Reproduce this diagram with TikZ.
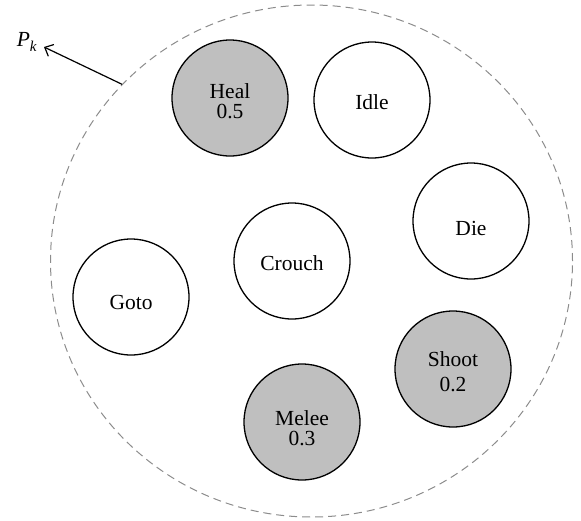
\documentclass[tikz,border=0pt]{standalone}
\usepackage{fontspec}
\setmainfont{Liberation Serif}
\usetikzlibrary{arrows.meta,shapes.geometric}
\definecolor{stategray}{gray}{0.75}
\definecolor{poolgray}{gray}{0.55}
\tikzset{
  state/.style={circle, draw=black, line width=1.3pt, minimum size=116pt, inner sep=0pt},
  active/.style={state, fill=stategray},
  idlestate/.style={state, fill=white},
  statetext/.style={font=\fontsize{21.5}{20}\selectfont, align=center, inner sep=0pt},
  pool/.style={ellipse, draw=poolgray, line width=1pt, dash pattern=on 8pt off 5pt,
    minimum width=522pt, minimum height=512pt, inner sep=0pt},
}
\begin{document}
\begin{tikzpicture}[x=1pt, y=-1pt]
\useasboundingbox (0,0) rectangle (581,520);

% pool of behaviours
\node[pool] (pool) at (311.5,261) {};

% behaviour states
\node[active]    (heal)   at (230,98)  {};
\node[idlestate] (idle)   at (372,100) {};
\node[idlestate] (die)    at (471,221) {};
\node[idlestate] (crouch) at (292,261) {};
\node[idlestate] (goto)   at (131,297) {};
\node[active]    (shoot)  at (453,369) {};
\node[active]    (melee)  at (302,422) {};

% state labels
\node[statetext] (healtxt)   at (230,101) {Heal\\0.5};
\node[statetext] (idletxt)   at (372,102) {Idle};
\node[statetext] (dietxt)    at (471,228) {Die};
\node[statetext] (crouchtxt) at (292,263) {Crouch};
\node[statetext] (gototxt)   at (131,302) {Goto};
\node[statetext] (shoottxt)  at (453,372) {Shoot\\[5pt]0.2};
\node[statetext] (meleetxt)  at (302,428) {Melee\\0.3};

% pool label and pointer
\coordinate (tip) at (44,47);
\node[anchor=east, inner sep=0pt, font=\fontsize{21.5}{20}\selectfont] (pk) at (37,42)
  {\textit{P}\raisebox{-5pt}{\fontsize{15}{15}\selectfont\textit{k}}};
\draw[line width=1.2pt, -{Straight Barb[length=7pt, width=13pt]}] (pool.137.6) -- (tip);
\end{tikzpicture}
\end{document}
